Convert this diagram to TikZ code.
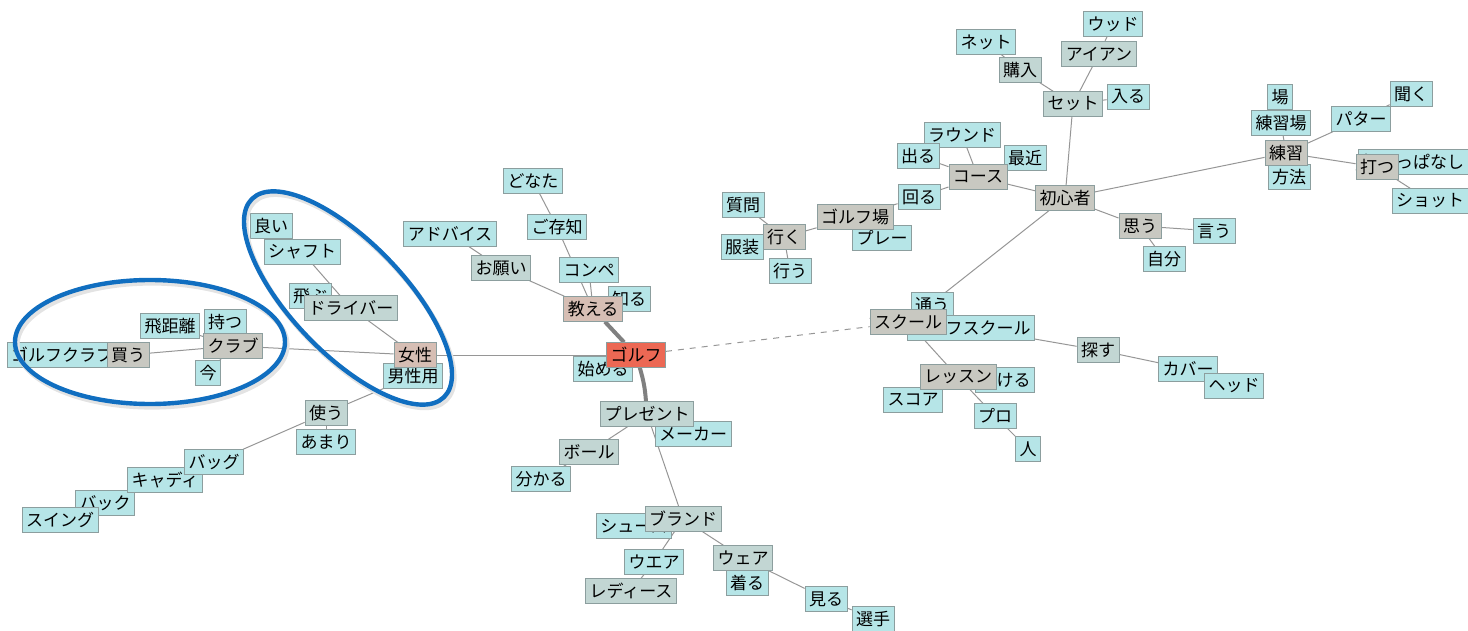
\documentclass[tikz,border=0pt]{standalone}
\usepackage{fontspec}
\setmainfont{Noto Sans CJK JP}
\usepackage{tikz}
\usetikzlibrary{backgrounds}
\definecolor{leafcol}{RGB}{182,229,231}
\definecolor{midcol}{RGB}{194,214,211}
\definecolor{hubcol}{RGB}{200,200,193}
\definecolor{topiccol}{RGB}{214,190,180}
\definecolor{corecol}{RGB}{236,104,84}
\definecolor{edgecol}{RGB}{140,158,158}
\definecolor{linecol}{RGB}{150,150,150}
\definecolor{ringcol}{RGB}{16,110,192}
\tikzstyle{word}=[rectangle,draw=edgecol,line width=0.4pt,inner xsep=2pt,inner ysep=0pt,minimum height=12.3pt,font=\fontsize{8.5}{10}\selectfont]
\tikzstyle{leaf}=[word,fill=leafcol]
\tikzstyle{mid}=[word,fill=midcol]
\tikzstyle{hub}=[word,fill=hubcol]
\tikzstyle{topic}=[word,fill=topiccol]
\tikzstyle{core}=[word,fill=corecol]

\begin{document}
\begin{tikzpicture}
	[x=0.5pt,y=-0.5pt]
	\tikzstyle{link}=[draw=linecol,line width=0.5pt];
	\tikzstyle{strong}=[draw=gray,line width=2pt];
	\tikzstyle{ring}=[draw=ringcol,line width=2.2pt];
	\tikzstyle{ringshade}=[draw=gray!22,line width=2.6pt];
	\useasboundingbox (0,0) rectangle (1468,631);

	% left part
	\node (gclub) [leaf] at (62,355) {ゴルフクラブ};
	\node (kau) [hub] at (128,355) {買う};
	\node (tobu) [leaf] at (310,296) {飛ぶ};
	\node (driver) [mid] at (351,308) {ドライバー};
	\node (yoi) [leaf] at (271,226) {良い};
	\node (shaft) [leaf] at (302,252) {シャフト};
	\node (hikyori) [leaf] at (170,326) {飛距離};
	\node (motsu) [leaf] at (225,322) {持つ};
	\node (club) [hub] at (233,346) {クラブ};
	\node (ima) [leaf] at (208,373) {今};
	\node (danseiyo) [leaf] at (413,376) {男性用};
	\node (josei) [topic] at (415,355) {女性};
	\node (tsukau) [mid] at (326,413) {使う};
	\node (amari) [leaf] at (326,442) {あまり};
	\node (back) [leaf] at (105,503) {バック};
	\node (caddie) [leaf] at (165,480) {キャディ};
	\node (bag) [leaf] at (214,462) {バッグ};
	\node (swing) [leaf] at (60,520) {スイング};

	% middle part
	\node (donata) [leaf] at (533,181) {どなた};
	\node (gozonji) [leaf] at (557,227) {ご存知};
	\node (advice) [leaf] at (450,234) {アドバイス};
	\node (onegai) [mid] at (501,268) {お願い};
	\node (compe) [leaf] at (589,270) {コンペ};
	\node (shiru) [leaf] at (629,299) {知る};
	\node (oshieru) [topic] at (593,309) {教える};
	\node (hajimeru) [leaf] at (603,369) {始める};
	\node (golf) [core] at (636,355) {ゴルフ};
	\node (maker) [leaf] at (693,434) {メーカー};
	\node (present) [mid] at (647,414) {プレゼント};
	\node (ball) [mid] at (589,452) {ボール};
	\node (wakaru) [leaf] at (541,479) {分かる};
	\node (shoes) [leaf] at (634,526) {シューズ};
	\node (brand) [mid] at (683,519) {ブランド};
	\node (wear) [leaf] at (654,562) {ウエア};
	\node (ladies) [mid] at (631,591) {レディース};
	\node (wearb) [mid] at (743,558) {ウェア};
	\node (kiru) [leaf] at (747,583) {着る};
	\node (miru) [leaf] at (826,599) {見る};
	\node (senshu) [leaf] at (873,619) {選手};

	% right part
	\node (wood) [leaf] at (1113,24) {ウッド};
	\node (iron) [mid] at (1099,54) {アイアン};
	\node (net) [leaf] at (986,42) {ネット};
	\node (konyu) [mid] at (1020,70) {購入};
	\node (set) [mid] at (1073,104) {セット};
	\node (hairu) [leaf] at (1128,97) {入る};
	\node (round) [leaf] at (962,135) {ラウンド};
	\node (deru) [leaf] at (918,156) {出る};
	\node (saikin) [leaf] at (1025,158) {最近};
	\node (course) [hub] at (978,177) {コース};
	\node (mawaru) [leaf] at (919,197) {回る};
	\node (play) [leaf] at (882,238) {プレー};
	\node (golfjo) [hub] at (855,217) {ゴルフ場};
	\node (shitsumon) [leaf] at (743,205) {質問};
	\node (fukuso) [leaf] at (742,247) {服装};
	\node (iku) [hub] at (784,237) {行く};
	\node (okonau) [leaf] at (790,271) {行う};
	\node (shoshinsha) [hub] at (1065,198) {初心者};
	\node (omou) [hub] at (1140,226) {思う};
	\node (iu) [leaf] at (1214,231) {言う};
	\node (jibun) [leaf] at (1164,259) {自分};
	\node (ba) [leaf] at (1280,97) {場};
	\node (renshujo) [leaf] at (1281,123) {練習場};
	\node (hoho) [leaf] at (1289,177) {方法};
	\node (renshu) [hub] at (1286,153) {練習};
	\node (putter) [leaf] at (1361,119) {パター};
	\node (kiku) [leaf] at (1411,94) {聞く};
	\node (uchippa) [leaf] at (1413,162) {打ちっぱなし};
	\node (utsu) [hub] at (1377,167) {打つ};
	\node (shot) [leaf] at (1430,201) {ショット};
	\node (kayou) [leaf] at (932,305) {通う};
	\node (gschool) [leaf] at (971,328) {ゴルフスクール};
	\node (school) [hub] at (908,322) {スクール};
	\node (ukeru) [leaf] at (1005,380) {受ける};
	\node (score) [leaf] at (913,400) {スコア};
	\node (lesson) [hub] at (958,377) {レッスン};
	\node (pro) [leaf] at (995,416) {プロ};
	\node (hito) [leaf] at (1028,449) {人};
	\node (sagasu) [mid] at (1098,350) {探す};
	\node (cover) [leaf] at (1188,369) {カバー};
	\node (head) [leaf] at (1234,386) {ヘッド};

	\begin{scope}[on background layer]
	\path[strong]
		(golf) edge (oshieru)
		(golf) edge[bend left=6] (present);
	\path[link,dashed] (golf) edge (school);
	\path[link]
		(golf) edge (josei) (golf) edge (hajimeru)
		(josei) edge (club) (josei) edge (driver) (josei) edge (danseiyo)
		(driver) edge (shaft) (driver) edge (tobu) (shaft) edge (yoi)
		(club) edge (kau) (club) edge (motsu) (club) edge (ima) (club) edge (hikyori)
		(kau) edge (gclub)
		(danseiyo) edge (tsukau) (tsukau) edge (amari) (tsukau) edge (bag)
		(bag) edge (caddie) (caddie) edge (back) (back) edge (swing)
		(oshieru) edge (onegai) (onegai) edge (advice)
		(oshieru) edge (compe) (oshieru) edge (gozonji) (gozonji) edge (donata)
		(oshieru) edge (shiru)
		(present) edge (maker) (present) edge (ball) (ball) edge (wakaru)
		(present) edge (brand)
		(brand) edge (shoes) (brand) edge (wear) (wear) edge (ladies)
		(brand) edge (wearb) (wearb) edge (kiru) (wearb) edge (miru) (miru) edge (senshu)
		(school) edge (shoshinsha) (school) edge (kayou) (school) edge (gschool)
		(gschool) edge (sagasu) (sagasu) edge (cover) (cover) edge (head)
		(school) edge (lesson) (lesson) edge (ukeru) (lesson) edge (score)
		(lesson) edge (pro) (pro) edge (hito)
		(shoshinsha) edge (course) (shoshinsha) edge (set)
		(shoshinsha) edge (renshu) (shoshinsha) edge (omou)
		(omou) edge (iu) (omou) edge (jibun)
		(set) edge (konyu) (set) edge (iron) (set) edge (hairu)
		(konyu) edge (net) (iron) edge (wood)
		(course) edge (round) (course) edge (deru) (course) edge (saikin) (course) edge (mawaru)
		(mawaru) edge (golfjo) (golfjo) edge (play) (golfjo) edge (iku)
		(iku) edge (shitsumon) (iku) edge (fukuso) (iku) edge (okonau)
		(renshu) edge (renshujo) (renshujo) edge (ba) (renshu) edge (hoho)
		(renshu) edge (putter) (putter) edge (kiku)
		(renshu) edge (utsu) (utsu) edge (uchippa) (utsu) edge (shot);
	\end{scope}

	% the two rings
	\draw[ringshade] (152,345) ellipse [x radius=67.5pt,y radius=31pt];
	\draw[ringshade,rotate around={-46:(350,301)}] (350,301) ellipse [x radius=69pt,y radius=28pt];
	\draw[ring] (150,342) ellipse [x radius=67.5pt,y radius=31pt];
	\draw[ring,rotate around={-46:(348,298)}] (348,298) ellipse [x radius=69pt,y radius=28pt];
\end{tikzpicture}
\end{document}
